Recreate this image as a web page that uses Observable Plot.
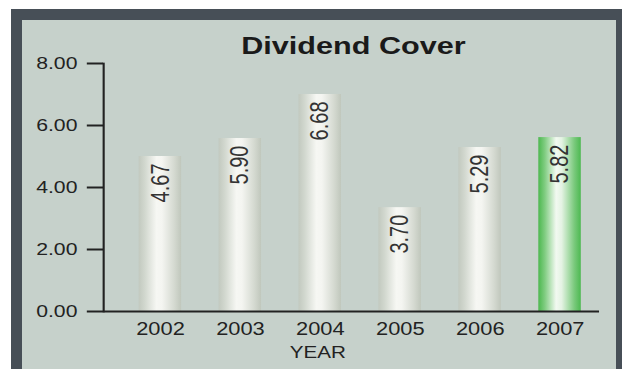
<!DOCTYPE html>
<html>
<head>
<meta charset="utf-8">
<script src="https://cdn.jsdelivr.net/npm/d3@7"></script>
<script src="https://cdn.jsdelivr.net/npm/@observablehq/plot@0.6"></script>
<style>
  body { margin: 0; background: #fff; }
  #page { position: relative; width: 622px; height: 369px; overflow: hidden; }
  #stretch { position: absolute; left: 0; top: 0; width: 498px; height: 369px; transform: scaleX(1.249); transform-origin: 0 0; }
  #chart { position: absolute; left: 0; top: 0; }
  #title { position: absolute; left: 0; top: 33.6px; width: 566px; text-align: center; font: bold 24.5px/24.5px "Liberation Sans", Arial, sans-serif; color: #1a1a1a; z-index: 2; }
  #xlabel { position: absolute; left: 0; top: 344px; width: 509px; text-align: center; font: 16.5px/16.5px "Liberation Sans", Arial, sans-serif; color: #222; z-index: 2; }
</style>
</head>
<body>
<div id="page">
  <div style="position:absolute;left:11px;top:9px;width:611px;height:360px;background:#474f57"></div>
  <div style="position:absolute;left:22px;top:20px;width:594px;height:349px;background:#c6d1cb"></div>
  <div id="stretch">
    <div id="chart"></div>
    <div id="title">Dividend Cover</div>
    <div id="xlabel">YEAR</div>
  </div>
</div>
<script>
// Data
const years = ["2002", "2003", "2004", "2005", "2006", "2007"];
const barHeights = [5.00, 5.58, 7.00, 3.35, 5.29, 5.61];   // drawn bar heights
const labels = ["4.67", "5.90", "6.68", "3.70", "5.29", "5.82"]; // printed values
const highlightYear = "2007";
const yTicks = [0, 2, 4, 6, 8];

const data = years.map((year, i) => ({year, h: barHeights[i], label: labels[i]}));

const chart = Plot.plot({
  width: 498,
  height: 369,
  marginLeft: 82.5,
  marginRight: 18.4,
  marginTop: 63,
  marginBottom: 58,
  style: {background: "transparent", fontFamily: "'Liberation Sans', Arial, sans-serif", overflow: "visible"},
  x: {domain: years, paddingInner: 0.47, paddingOuter: 0.31, align: 0.66},
  y: {domain: [0, 8]},
  marks: [
    Plot.barY(data.filter(d => d.year !== highlightYear), {x: "year", y: "h", fill: "url(#gGray)"}),
    Plot.barY(data.filter(d => d.year === highlightYear), {x: "year", y: "h", fill: "url(#gGreen)"}),
    Plot.text(data, {x: "year", y: "h", text: "label", rotate: -90, textAnchor: "end", lineAnchor: "middle", dy: 7, fontSize: 20, fill: "#333"}),
    Plot.axisY({ticks: yTicks, tickFormat: d => d.toFixed(2), tickSize: 13, tickPadding: 8, fontSize: 17, stroke: "#222", strokeWidth: 2, strokeOpacity: 1, fill: "#222", label: null}),
    Plot.axisX({tickSize: 0, tickPadding: 11, fontSize: 17.5, fill: "#222", label: null}),
    Plot.frame({anchor: "left", stroke: "#222", strokeWidth: 1.7}),
    Plot.ruleY([0], {stroke: "#222", strokeWidth: 2})
  ]
});

const defs = d3.select(chart).insert("defs", ":first-child");
function grad(id, stops) {
  const g = defs.append("linearGradient").attr("id", id).attr("x1", 0).attr("x2", 1).attr("y1", 0).attr("y2", 0);
  stops.forEach(([o, c]) => g.append("stop").attr("offset", o).attr("stop-color", c));
}
grad("gGray", [[0, "#c2c9bf"], [0.15, "#d2d8cf"], [0.42, "#f6f7f3"], [0.55, "#f4f5f1"], [0.85, "#d3d8cf"], [1, "#c0c7bc"]]);
grad("gGreen", [[0, "#4cb84f"], [0.15, "#7fcc80"], [0.42, "#f2f9f1"], [0.55, "#e4f3e3"], [0.85, "#79c97b"], [1, "#4db951"]]);

document.getElementById("chart").appendChild(chart);
</script>
</body>
</html>
